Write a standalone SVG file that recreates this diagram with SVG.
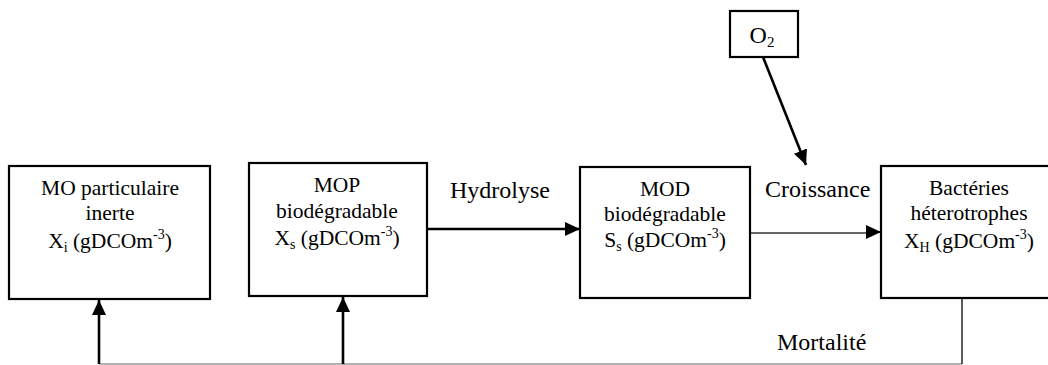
<svg xmlns="http://www.w3.org/2000/svg" width="1048" height="365" viewBox="0 0 1048 365">
<style>
  .box { fill: #fff; stroke: #000; stroke-width: 2.2; }
  text { font-family: "Liberation Serif", "Tinos", "Times New Roman", "DejaVu Serif", serif; fill: #000; }
  .t { font-size: 21.5px; text-anchor: middle; }
  .lbl { font-size: 24px; }
  .sub { font-size: 14px; }
  .conn { fill: none; stroke: #000; stroke-width: 2.6; }
  .thin { fill: none; stroke: #333; stroke-width: 1.6; }
  .grey { fill: none; stroke: #999; stroke-width: 1.5; }
</style>
<defs>
  <marker id="ah" markerWidth="15" markerHeight="14" refX="15" refY="7" orient="auto" markerUnits="userSpaceOnUse">
    <path d="M0,0 L15,7 L0,14 Z" fill="#000"/>
  </marker>
</defs>

<g id="connectors">
  <path class="grey" d="M99,364 H962"/>
  <path class="thin" d="M962,298 V364"/>
  <path class="conn" d="M99,364 V300" marker-end="url(#ah)"/>
  <path class="conn" d="M343,364 V297" marker-end="url(#ah)"/>
  <path class="conn" d="M427,229 H580" marker-end="url(#ah)"/>
  <path class="thin" d="M750,233 H868"/>
  <path class="conn" d="M868,232 H881" marker-end="url(#ah)" style="stroke-width:1.6"/>
  <path class="conn" d="M763,57 L806,165" marker-end="url(#ah)"/>
</g>

<g id="node-xi">
  <rect class="box" x="9" y="166" width="201" height="133"/>
  <text class="t" x="110" y="195">MO particulaire</text>
  <text class="t" x="110" y="220">inerte</text>
  <text class="t" x="110" y="248">X<tspan class="sub" dy="4">i</tspan><tspan dy="-4"> (gDCOm</tspan><tspan class="sub" dy="-9">-3</tspan><tspan dy="9">)</tspan></text>
</g>

<g id="node-xs">
  <rect class="box" x="249" y="163" width="178" height="133"/>
  <text class="t" x="337" y="192">MOP</text>
  <text class="t" x="337" y="218">biodégradable</text>
  <text class="t" x="337" y="245">X<tspan class="sub" dy="4">s</tspan><tspan dy="-4"> (gDCOm</tspan><tspan class="sub" dy="-9">-3</tspan><tspan dy="9">)</tspan></text>
</g>

<g id="node-ss">
  <rect class="box" x="580" y="167" width="170" height="131"/>
  <text class="t" x="665" y="196">MOD</text>
  <text class="t" x="665" y="221">biodégradable</text>
  <text class="t" x="665" y="247">S<tspan class="sub" dy="4">s</tspan><tspan dy="-4">  (gDCOm</tspan><tspan class="sub" dy="-9">-3</tspan><tspan dy="9">)</tspan></text>
</g>

<g id="node-xh">
  <rect class="box" x="881" y="166" width="180" height="132"/>
  <text class="t" x="969" y="195">Bactéries</text>
  <text class="t" x="969" y="220">héterotrophes</text>
  <text class="t" x="969" y="248">X<tspan class="sub" dy="4">H</tspan><tspan dy="-4"> (gDCOm</tspan><tspan class="sub" dy="-9">-3</tspan><tspan dy="9">)</tspan></text>
</g>

<g id="node-o2">
  <rect class="box" x="730" y="11" width="68" height="46"/>
  <text class="lbl" x="762" y="43" text-anchor="middle">O<tspan class="sub" dy="4" style="font-size:15px">2</tspan></text>
</g>

<g id="labels">
  <text class="lbl" x="450" y="198">Hydrolyse</text>
  <text class="lbl" x="765" y="197">Croissance</text>
  <text class="lbl" x="777" y="350">Mortalité</text>
</g>
</svg>
